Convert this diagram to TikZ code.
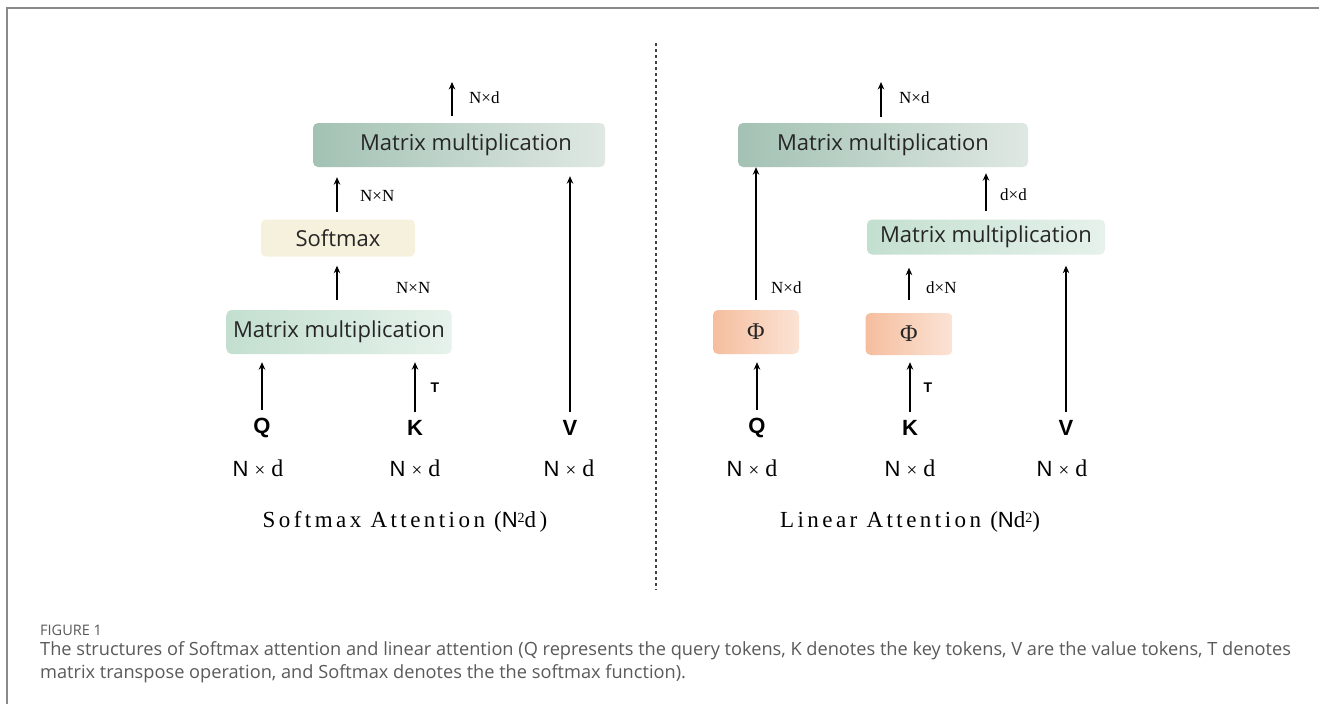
\documentclass[tikz,border=0pt]{standalone}
\usepackage{fontspec}
\setmainfont{Liberation Serif}
\newfontfamily\boxfont{Open Sans}
\newfontfamily\capfont{Open Sans}
\newfontfamily\qkvfont{Liberation Sans}
\newfontfamily\spacedserif[LetterSpace=15]{Liberation Serif}
\usetikzlibrary{arrows.meta}
\definecolor{frame}{HTML}{8A8A8A}
\definecolor{capgray}{HTML}{5A5A5A}
\tikzset{
  box/.style={rounded corners=5pt, inner sep=0pt, font=\boxfont\fontsize{22}{26}\selectfont, text=black!85},
  mmdark/.style={box, left color=mmA, right color=mmB},
  mmlight/.style={box, left color=mlA, right color=mlB},
  smbox/.style={box, fill=smC},
  phibox/.style={box, left color=phA, right color=phB, font=\rmfamily\fontsize{24}{26}\selectfont},
  arr/.style={-{Stealth[length=7.5pt,width=6.5pt]}, line width=1.7pt},
  lab/.style={font=\fontsize{17}{20}\selectfont, inner sep=0pt},
  qkv/.style={font=\qkvfont\bfseries\fontsize{22}{25}\selectfont, inner sep=0pt},
  dims/.style={font=\fontsize{24}{28}\selectfont, inner sep=0pt},
  ttl/.style={font=\spacedserif\fontsize{23}{26}\selectfont, inner sep=0pt},
  tlab/.style={font=\qkvfont\bfseries\fontsize{14}{16}\selectfont, inner sep=0pt}
}
\definecolor{mmA}{HTML}{A3C2B3}
\definecolor{mmB}{HTML}{DFE8E3}
\definecolor{mlA}{HTML}{C3DFCF}
\definecolor{mlB}{HTML}{E6F2EB}
\definecolor{smC}{HTML}{F6F1DC}
\definecolor{phA}{HTML}{F5BE9E}
\definecolor{phB}{HTML}{FBE3D5}
\newcommand{\nxd}{{\qkvfont\fontsize{22}{26}\selectfont N} {\fontsize{19}{22}\selectfont ×} d}
\begin{document}
\begin{tikzpicture}[x=1pt,y=-1pt]
\useasboundingbox (0,0) rectangle (1319,704);
\fill[white] (0,0) rectangle (1319,704);
% frame
\draw[frame, line width=2pt] (7,704) -- (7,8) -- (1319,8);
% divider
\draw[black!75, line width=1.2pt, dash pattern=on 3pt off 3pt] (656,43) -- (656,590);

% ---------- Left: softmax attention ----------
\node[mmdark, minimum width=292pt, minimum height=44pt] (Lmm2) at (459,145) {\hspace*{14pt}Matrix multiplication};
\node[smbox, minimum width=154pt, minimum height=37pt] (Lsm) at (338,238) {Softmax};
\node[mmlight, minimum width=225pt, minimum height=44pt] (Lmm1) at (339,332) {Matrix multiplication};
\node[qkv] (LQ) at (262,428) {Q};
\node[qkv] (LK) at (415,428) {K};
\node[qkv] (LV) at (570,428) {V};
\node[dims] (LdQ) at (258,468) {\nxd};
\node[dims] (LdK) at (415,468) {\nxd};
\node[dims] (LdV) at (569,468) {\nxd};
\node[ttl] (Ltitle) at (405,522) {Softmax Attention ({\qkvfont\fontsize{22}{26}\selectfont N}\raisebox{5pt}{\fontsize{14}{15}\selectfont 2}d)};
\coordinate (Lout) at (452,82);
\draw[arr] (452,116) coordinate (LoutS) -- (Lout);
\node[lab, anchor=west] (LlabOut) at (469,98) {N×d};
\draw[arr] ([yshift=7pt]Lsm.north -| 337,0) -- ([yshift=-10pt]Lmm2.south -| 337,0);
\node[lab, anchor=west] (LlabSm) at (360,196) {N×N};
\draw[arr] ([yshift=10pt]Lmm1.north -| 337,0) -- ([yshift=-9pt]Lsm.south -| 337,0);
\node[lab, anchor=west] (LlabMm) at (396,288) {N×N};
\draw[arr] ([yshift=8pt]LQ.north) -- ([yshift=-8pt]LQ.north |- Lmm1.south);
\draw[arr] ([yshift=8pt]LK.north) -- ([yshift=-8pt]LK.north |- Lmm1.south);
\node[tlab] (LT) at (435,388) {T};
\draw[arr] ([yshift=8pt]LV.north) -- ([yshift=-9pt]LV.north |- Lmm2.south);

% ---------- Right: linear attention ----------
\node[mmdark, minimum width=290pt, minimum height=44pt] (Rmm2) at (883,145) {Matrix multiplication};
\node[mmlight, minimum width=238pt, minimum height=35pt] (Rmm1) at (986,237) {Matrix multiplication};
\node[phibox, minimum width=86pt, minimum height=44pt] (Rphi1) at (756,332) {Φ};
\node[phibox, minimum width=87pt, minimum height=42pt] (Rphi2) at (909,334) {Φ};
\node[qkv] (RQ) at (757,428) {Q};
\node[qkv] (RK) at (910,428) {K};
\node[qkv] (RV) at (1066,428) {V};
\node[dims] (RdQ) at (752,468) {\nxd};
\node[dims] (RdK) at (910,468) {\nxd};
\node[dims] (RdV) at (1062,468) {\nxd};
\node[ttl] (Rtitle) at (910,522) {Linear Attention ({\qkvfont\fontsize{22}{26}\selectfont N}d\raisebox{5pt}{\fontsize{14}{15}\selectfont 2})};
\coordinate (Rout) at (881,82);
\draw[arr] (881,117) coordinate (RoutS) -- (Rout);
\node[lab, anchor=west] (RlabOut) at (899,98) {N×d};
\draw[arr] ([yshift=10pt]Rphi1.north) -- (Rphi1.north |- Rmm2.south);
\node[lab, anchor=west] (RlabPhi1) at (771,288) {N×d};
\draw[arr] ([yshift=8pt]Rmm1.north) -- ([yshift=-6pt]Rmm1.north |- Rmm2.south);
\node[lab, anchor=west] (RlabDD) at (1000,195) {d×d};
\draw[arr] ([yshift=13pt]Rphi2.north) -- ([yshift=-13pt]Rphi2.north |- Rmm1.south);
\node[lab, anchor=west] (RlabDN) at (926,288) {d×N};
\draw[arr] ([yshift=8pt]RQ.north) -- ([yshift=-8pt]RQ.north |- Rphi1.south);
\draw[arr] ([yshift=8pt]RK.north) -- ([yshift=-7pt]RK.north |- Rphi2.south);
\node[tlab] (RT) at (928,388) {T};
\draw[arr] ([yshift=8pt]RV.north) -- ([yshift=-11pt]RV.north |- Rmm1.south);

% ---------- Caption ----------
\node[anchor=west, inner sep=0pt, text=capgray, font=\capfont\fontsize{14.5}{16}\selectfont] (figlab) at (40,630) {FIGURE 1};
\node[anchor=north west, inner sep=0pt, text=capgray, align=left, font=\capfont\fontsize{18.2}{23}\selectfont] (caption) at (40,641)
 {The structures of Softmax attention and linear attention (Q represents the query tokens, K denotes the key tokens, V are the value tokens, T denotes\\
  matrix transpose operation, and Softmax denotes the the softmax function).};
\end{tikzpicture}
\end{document}
